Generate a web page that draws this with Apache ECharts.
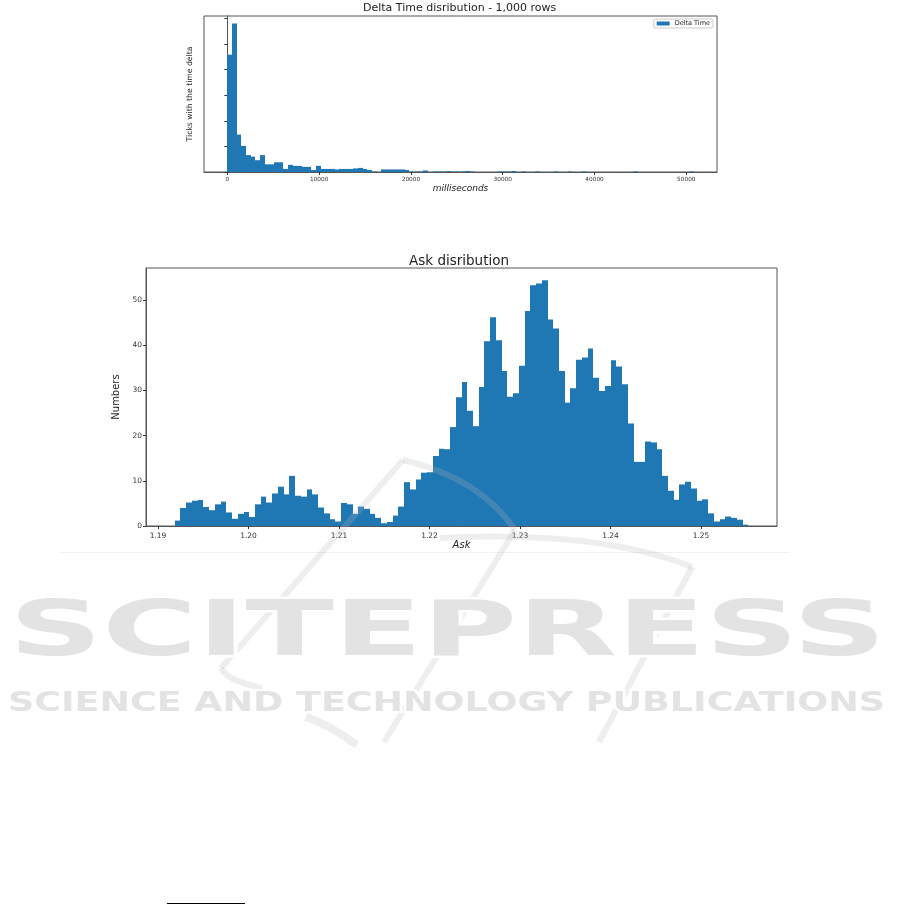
<!DOCTYPE html>
<html>
<head>
<meta charset="utf-8">
<script src="https://cdn.jsdelivr.net/npm/echarts@6/dist/echarts.min.js"></script>
<style>
html,body{margin:0;padding:0;background:#fff;}
#c{width:901px;height:905px;}
</style>
</head>
<body>
<div id="c"></div>
<script>
// ---- Delta Time histogram (counts per bin, 100 bins) ----
const deltaStart = 0;
const deltaBinWidth = 508;
const deltaCounts = [
  229,290,73,51,33,30,23,33,15,15,
  19,19,6,14,12,12,10,10,4,12,
  6,6,6,5,6,6,6,7,8,6,
  4,1,0,5,5,5,5,5,4,1,
  1,1,3,0,1,1,1,2,1,1,
  1,2,1,0,0,0,0,0,1,1,
  1,2,0,1,0,0,1,0,0,0,
  1,0,0,1,0,0,1,0,0,0,
  0,0,0,0,0,0,0,1,0,0,
  0,0,0,0,0,0,0,0,0,1
];
const deltaTicks = [0,10000,20000,30000,40000,50000];
const deltaYTicks = [0,50,100,150,200,250,300];

// ---- Ask histogram (density per bin, 100 bins) ----
const askStart = 1.19184;
const askBinWidth = 0.00063390;
const askValues = [
  1.2,4.0,5.2,5.6,5.75,4.2,3.5,4.8,5.4,3.0,
  1.6,2.7,3.1,2.0,4.8,6.5,5.2,7.2,8.7,7.0,
  11.1,6.7,6.5,8.1,7.0,4.1,2.8,1.5,1.0,5.1,
  4.8,2.7,4.3,3.8,2.7,1.8,0.6,0.9,2.3,4.3,
  9.7,8.1,10.3,11.8,11.9,15.5,17.1,17.0,21.9,28.5,
  31.9,25.5,22.1,30.8,40.9,46.2,41.1,34.3,28.6,29.4,
  35.5,47.6,53.3,53.7,54.4,45.7,43.7,34.3,27.3,30.5,
  36.8,37.3,39.3,32.8,29.9,31.0,36.7,35.3,31.4,22.7,
  14.2,14.2,18.7,18.5,17.0,11.1,7.8,5.8,9.2,9.8,
  8.3,5.6,5.9,2.8,1.0,1.5,2.1,1.8,1.4,0.3
];
const askTicks = [1.19,1.20,1.21,1.22,1.23,1.24,1.25];
const askYTicks = [0,10,20,30,40,50];

const BLUE = '#1f77b4';
const FONT = 'DejaVu Sans';

function binsToData(start, width, vals){
  return vals.map((v,i)=>[start+width*i, start+width*(i+1), v]);
}
function histRender(params, api){
  const p0 = api.coord([api.value(0), api.value(2)]);
  const p1 = api.coord([api.value(1), 0]);
  const x0 = Math.round(p0[0]), x1 = Math.round(p1[0]);
  const yb = Math.round(p1[1]);
  const yt = p0[1];
  return {
    type:'rect',
    shape:{x:x0, y:yt, width:x1-x0, height:yb-yt},
    style:{fill:BLUE}
  };
}

const deltaData = binsToData(deltaStart, deltaBinWidth, deltaCounts);
const askData = binsToData(askStart, askBinWidth, askValues);
const dSpan = deltaBinWidth*deltaCounts.length;
const aSpan = askBinWidth*askValues.length;

const chart = echarts.init(document.getElementById('c'), null, {renderer:'canvas'});

// watermark scaling
const mctx = document.createElement('canvas').getContext('2d');
function widthOf(txt, font){ mctx.font = font; return mctx.measureText(txt).width; }
const wm1 = 'SCITEPRESS';
const wm2 = 'SCIENCE AND TECHNOLOGY PUBLICATIONS';
const wm1s = 877 / widthOf(wm1, 'bold 76px "DejaVu Sans"');
const wm2s = 877 / widthOf(wm2, 'bold 27px "DejaVu Sans"');
const WM = 'rgba(185,185,185,0.24)';

function stroke(shapeType, shape, w){
  return {type:shapeType, z:100, silent:true, shape:shape, style:{stroke:WM, lineWidth:w||6, fill:null}};
}

const axisCol = '#333';
const option = {
  animation:false,
  backgroundColor:'#fff',
  textStyle:{fontFamily:FONT},
  title:[
    {text:'Delta Time disribution - 1,000 rows', left:363, top:3, padding:0,
     textStyle:{fontFamily:FONT, fontSize:11, fontWeight:'normal', color:'#222'}},
    {text:'Ask disribution', left:409, top:254, padding:0,
     textStyle:{fontFamily:FONT, fontSize:13.5, fontWeight:'normal', color:'#222'}}
  ],
  legend:{
    data:[{name:'Delta Time', icon:'rect'}],
    right:188, top:19, itemWidth:13, itemHeight:4, itemGap:5,
    padding:[1,3,1,3], borderColor:'#ccc', borderWidth:1, borderRadius:2,
    textStyle:{fontFamily:FONT, fontSize:6.5, color:'#222'}
  },
  grid:[
    {left:204, right:184, top:16, bottom:733, show:true, borderColor:'#555', borderWidth:1, backgroundColor:'transparent'},
    {left:146, right:124, top:268, bottom:379, show:true, borderColor:'#555', borderWidth:1, backgroundColor:'transparent'}
  ],
  xAxis:[
    {type:'value', gridIndex:0, min:deltaStart-0.05*dSpan, max:deltaStart+1.05*dSpan,
     name:'milliseconds', nameLocation:'middle', nameGap:12,
     nameTextStyle:{fontFamily:FONT, fontSize:9, fontStyle:'italic', color:'#222'},
     axisLine:{show:true, lineStyle:{color:'#555'}},
     axisTick:{show:true, length:3, customValues:deltaTicks, lineStyle:{color:axisCol}},
     axisLabel:{show:true, customValues:deltaTicks, fontSize:5.8, color:'#333', margin:4, fontFamily:FONT,
       formatter:v=>String(Math.round(v))},
     splitLine:{show:false}},
    {type:'value', gridIndex:1, min:askStart-0.05*aSpan, max:askStart+1.05*aSpan,
     name:'Ask', nameLocation:'middle', nameGap:14,
     nameTextStyle:{fontFamily:FONT, fontSize:10, fontStyle:'italic', color:'#222'},
     axisLine:{show:true, lineStyle:{color:'#555'}},
     axisTick:{show:true, length:3, customValues:askTicks, lineStyle:{color:axisCol}},
     axisLabel:{show:true, customValues:askTicks, fontSize:7.5, color:'#333', margin:6, fontFamily:FONT,
       formatter:v=>v.toFixed(2)},
     splitLine:{show:false}}
  ],
  yAxis:[
    {type:'value', gridIndex:0, min:0, max:Math.max(...deltaCounts)*1.05,
     name:'Ticks with the time delta', nameLocation:'middle', nameGap:10,
     nameTextStyle:{fontFamily:FONT, fontSize:7.7, color:'#222'},
     axisLine:{show:true, lineStyle:{color:'#555'}},
     axisTick:{show:true, length:3, customValues:deltaYTicks, lineStyle:{color:axisCol}},
     axisLabel:{show:false},
     splitLine:{show:false}},
    {type:'value', gridIndex:1, min:0, max:Math.max(...askValues)*1.05,
     name:'Numbers', nameLocation:'middle', nameGap:11,
     nameTextStyle:{fontFamily:FONT, fontSize:10, color:'#222'},
     axisLine:{show:true, lineStyle:{color:'#555'}},
     axisTick:{show:true, length:3, customValues:askYTicks, lineStyle:{color:axisCol}},
     axisLabel:{show:true, customValues:askYTicks, fontSize:7.5, color:'#333', margin:4, fontFamily:FONT},
     splitLine:{show:false}}
  ],
  series:[
    {name:'Delta Time', type:'custom', xAxisIndex:0, yAxisIndex:0, data:deltaData,
     encode:{x:[0,1], y:2}, renderItem:histRender, itemStyle:{color:BLUE}, silent:true},
    {name:'Ask', type:'custom', xAxisIndex:1, yAxisIndex:1, data:askData,
     encode:{x:[0,1], y:2}, renderItem:histRender, itemStyle:{color:BLUE}, silent:true}
  ],
  graphic:[
    {type:'line', z:-1, shape:{x1:60, y1:552.5, x2:790, y2:552.5}, style:{stroke:'#f1f1f1', lineWidth:1}},
    // faint emblem strokes of the watermark
    stroke('polyline', {points:[[403,460],[221,668]]}),
    stroke('bezierCurve', {x1:221, y1:668, x2:262, y2:688, cpx1:226, cpy1:680}),
    stroke('bezierCurve', {x1:403, y1:460, x2:515, y2:530, cpx1:480, cpy1:478}),
    stroke('polyline', {points:[[515,530],[384,742]]}),
    stroke('bezierCurve', {x1:440, y1:538, x2:692, y2:567, cpx1:600, cpy1:530}),
    stroke('polyline', {points:[[692,567],[599,742]]}),
    stroke('bezierCurve', {x1:306, y1:717, x2:357, y2:745, cpx1:330, cpy1:725}, 8),
    {type:'text', z:101, silent:true, x:9, y:597, scaleX:wm1s, scaleY:1,
     style:{text:wm1, font:'bold 76px "DejaVu Sans"', fill:'#e3e3e3', stroke:'#fff', lineWidth:5,
            textVerticalAlign:'top'}},
    {type:'text', z:101, silent:true, x:8, y:690, scaleX:wm2s, scaleY:1,
     style:{text:wm2, font:'bold 27px "DejaVu Sans"', fill:'#e3e3e3', stroke:'#fff', lineWidth:4,
            textVerticalAlign:'top'}},
    {type:'line', shape:{x1:167, y1:903.5, x2:245, y2:903.5}, style:{stroke:'#000', lineWidth:1}}
  ]
};
chart.setOption(option);
</script>
</body>
</html>
